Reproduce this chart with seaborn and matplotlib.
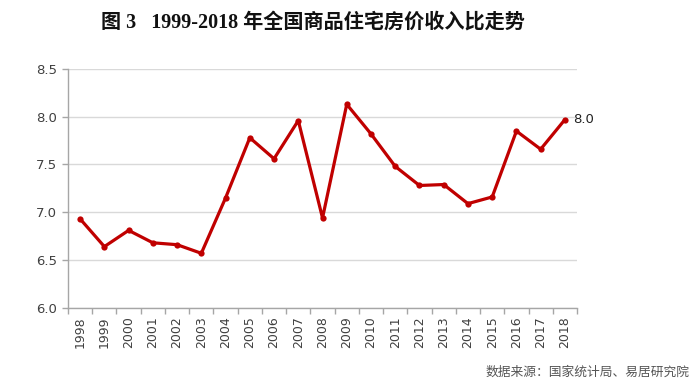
import matplotlib
matplotlib.use("Agg")
import matplotlib.pyplot as plt
import seaborn as sns
import numpy as np
import pandas as pd

# data
years = [str(y) for y in range(1998, 2019)]
ratio = [6.93, 6.64, 6.81, 6.68, 6.66, 6.57, 7.15, 7.78, 7.56, 7.96, 6.94,
         8.13, 7.82, 7.48, 7.28, 7.29, 7.09, 7.16, 7.85, 7.66, 7.97]
y_ticks = [6.0, 6.5, 7.0, 7.5, 8.0, 8.5]
title = "图 3   1999-2018 年全国商品住宅房价收入比走势"
source = "数据来源：国家统计局、易居研究院"

sns.set_theme(style="white")
plt.rcParams['font.family'] = ['DejaVu Sans', 'Noto Sans CJK SC']

df = pd.DataFrame({"pos": np.arange(len(years)), "ratio": ratio})

fig = plt.figure(figsize=(6.99, 3.92), dpi=100)
ax = fig.add_axes([0.0973, 0.215, 0.7282, 0.609])

red = "#C00000"
sns.lineplot(data=df, x="pos", y="ratio", ax=ax, color=red, linewidth=2.3,
             marker="o", markersize=4.5, markeredgewidth=0, zorder=3)

# value label at the last point
ax.annotate(f"{ratio[-1]:.1f}", (df["pos"].iloc[-1], ratio[-1]),
            xytext=(6, 0), textcoords="offset points", va="center", ha="left",
            fontsize=9.5, color="#222222")

ax.set_xlim(-0.5, len(years) - 0.5)
ax.set_ylim(6.0, 8.5)
ax.set_yticks(y_ticks)
ax.set_yticklabels([f"{v:.1f}" for v in y_ticks])
ax.set_xticks(df["pos"])
ax.set_xticklabels(years, rotation=90)
ax.set_xticks(np.arange(-0.5, len(years), 1.0), minor=True)
ax.set_xlabel("")
ax.set_ylabel("")

ax.grid(axis="y", color="#D9D9D9", linewidth=1)
ax.grid(axis="x", visible=False)
ax.set_axisbelow(True)
for s in ["top", "right"]:
    ax.spines[s].set_visible(False)
for s in ["left", "bottom"]:
    ax.spines[s].set_color("#A6A6A6")
    ax.spines[s].set_linewidth(1)

ax.tick_params(axis="x", which="major", length=0, pad=6, labelsize=9, labelcolor="#404040")
ax.tick_params(axis="x", which="minor", length=4, color="#A6A6A6", width=1, direction="out", bottom=True)
ax.tick_params(axis="y", length=4, color="#A6A6A6", width=1, direction="out", left=True,
               labelsize=9.5, labelcolor="#404040", pad=4)

fig.text(0.447, 0.943, title, ha="center", va="center", fontsize=14.5, fontweight="bold",
         family=["Liberation Serif", "Noto Sans CJK SC"], color="#111111")
fig.text(0.987, 0.05, source, ha="right", va="center", fontsize=9.2,
         family=["Noto Sans CJK SC", "DejaVu Sans"], color="#555555")

fig.savefig("out.png", dpi=100)
